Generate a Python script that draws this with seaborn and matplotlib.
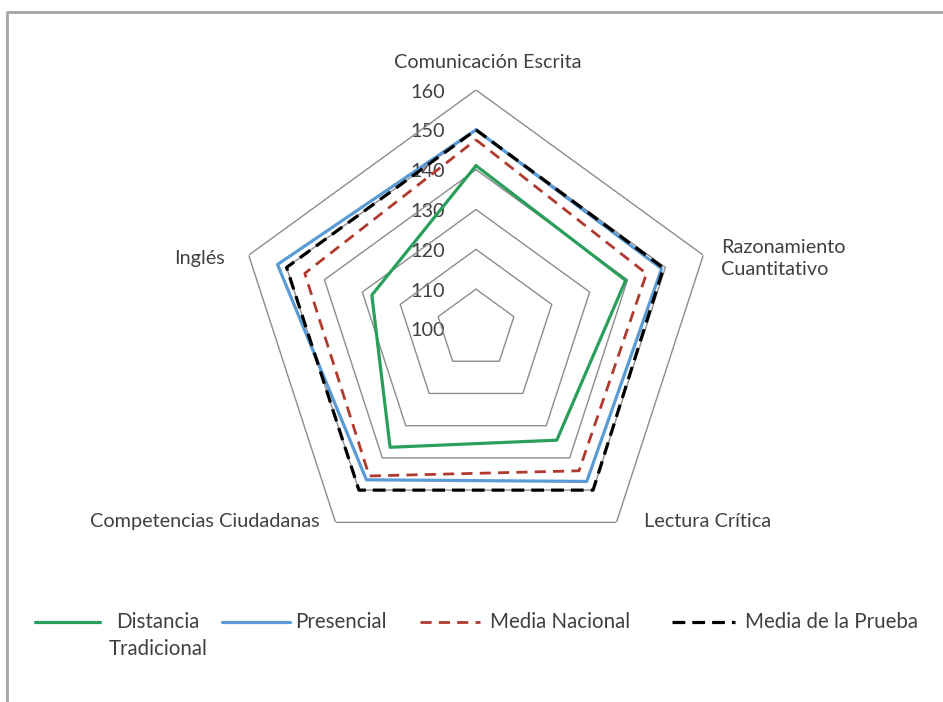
import numpy as np
import pandas as pd
import seaborn as sns
import matplotlib.pyplot as plt
from matplotlib.lines import Line2D

# Data
categorias = ["Comunicación Escrita", "Razonamiento\nCuantitativo", "Lectura Crítica",
              "Competencias Ciudadanas", "Inglés"]
series = ["Distancia\nTradicional", "Presencial", "Media Nacional", "Media de la Prueba"]
distancia = [141, 139.5, 134.5, 136.7, 127.5]
presencial = [150, 149, 147.3, 146.8, 152.4]
media_nacional = [147.5, 145, 144, 145.6, 145.2]
media_prueba = [150, 149.5, 150, 150, 150]
niveles = [100, 110, 120, 130, 140, 150, 160]

colores = ["#2A9F5B", "#5B9BD5", "#B03A2E", "#000000"]
estilos = ["-", "-", (0, (4, 2.6)), (0, (4, 2.2))]
grosores = [2.3, 2.3, 2.0, 2.3]

# offsets (pixels) and alignment for the category labels
etiq_off = [(12, 28, "center", "center"), (18, -3, "left", "center"), (28, 1, "left", "center"),
            (-16, 1, "right", "center"), (-24, -3, "right", "center")]

# legend layout in pixels: handle start, handle end, text x
leyenda_px = [(35, 100, 158, "center"), (222, 290, 295, "left"),
              (420, 480, 490, "left"), (672, 735, 745, "left")]

sns.set_theme(style="white")
plt.rcParams["font.family"] = ["Lato", "DejaVu Sans"]
texto = "#404040"
W, H = 943, 702

n = len(categorias)
theta = np.linspace(0, 2 * np.pi, n, endpoint=False)
theta_cerr = np.append(theta, 2 * np.pi)

valores = [distancia, presencial, media_nacional, media_prueba]
df = pd.concat([
    pd.DataFrame({"theta": theta_cerr, "puntaje": v + v[:1], "serie": s})
    for s, v in zip(series, valores)
], ignore_index=True)

fig = plt.figure(figsize=(W / 100, H / 100), dpi=100)
ax = fig.add_axes([237 / W, 134 / H, 478 / W, 478 / H], projection="polar")
ax.set_theta_offset(np.pi / 2)
ax.set_theta_direction(-1)
ax.set_ylim(niveles[0], niveles[-1])
ax.grid(False)
ax.spines["polar"].set_visible(False)
ax.set_xticks([])
ax.set_yticks([])
ax.patch.set_alpha(0)

# pentagonal grid
for nv in niveles[1:]:
    ax.plot(theta_cerr, [nv] * (n + 1), color="#8C8C8C", lw=1.0, zorder=1)

# tick labels along the vertical axis
for nv in niveles:
    ax.annotate(str(nv), xy=(0, nv), xytext=(-31, -2), textcoords="offset pixels",
                ha="right", va="center", fontsize=14.3, color=texto, zorder=0,
                annotation_clip=False)

# series
for s, c, ls, lw in zip(series, colores, estilos, grosores):
    sns.lineplot(data=df[df["serie"] == s], x="theta", y="puntaje", sort=False,
                 estimator=None, color=c, linestyle=ls, lw=lw, ax=ax, legend=False, zorder=3)
ax.set_xlabel("")
ax.set_ylabel("")

# category labels
for cat, t, (dx, dy, ha, va) in zip(categorias, theta, etiq_off):
    ax.annotate(cat, xy=(t, niveles[-1]), xytext=(dx, dy), textcoords="offset pixels",
                ha=ha, va=va, fontsize=14.3, color=texto, multialignment="left",
                linespacing=1.35, annotation_clip=False)

# legend, drawn by hand so that single-line labels line up with the first line
y_ley = 1 - 622 / H
for s, c, ls, lw, (x0, x1, xt, ha) in zip(series, colores, estilos, grosores, leyenda_px):
    fig.add_artist(Line2D([x0 / W, x1 / W], [y_ley, y_ley], color=c, linestyle=ls, lw=lw,
                          transform=fig.transFigure))
    fig.text(xt / W, y_ley, s, ha=ha, va="top" if "\n" in s else "center",
             fontsize=14.8, color=texto, multialignment="center", linespacing=1.45,
             transform=fig.transFigure)
# the two-line label starts at the same row as the others
fig.texts[0].set_y(y_ley + 10 / H)

# chart frame (top and left edges)
fig.add_artist(Line2D([7 / W, 7 / W, 1], [0, 1 - 12 / H, 1 - 12 / H],
                      color="#A6A6A6", lw=2.0, transform=fig.transFigure))

fig.savefig("out.png", dpi=100)
